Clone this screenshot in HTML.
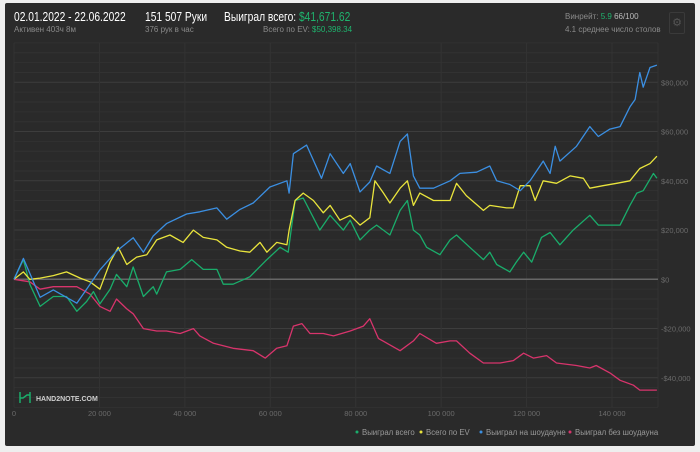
<!DOCTYPE html>
<html><head><meta charset="utf-8">
<style>
body{margin:0;width:700px;height:452px;background:#eeeeee;font-family:"Liberation Sans","Noto Sans CJK SC",sans-serif;overflow:hidden;position:relative}
#panel{position:absolute;left:5px;top:3px;width:690px;height:443px;background:#2a2a2a;border-radius:2px}
.t{position:absolute;white-space:nowrap}
.big{font-size:12.5px;color:#fff;transform:scaleX(0.82);transform-origin:left top}
svg{position:absolute;left:0;top:0}
</style></head><body>
<div id="panel"></div>
<div class="t big" style="left:14px;top:10px">02.01.2022 - 22.06.2022</div>
<div class="t" style="left:14px;top:25px;font-size:8px;color:#8a8a8a">Активен 403ч 8м</div>
<div class="t big" style="left:145px;top:10px">151 507 Руки</div>
<div class="t" style="left:145px;top:25px;font-size:8px;color:#8a8a8a">376 рук в час</div>
<div class="t big" style="left:224px;top:10px">Выиграл всего: <span style="color:#1fb46e">$41,671.62</span></div>
<div class="t" style="left:263px;top:25px;font-size:8px;color:#8a8a8a">Всего по EV: <span style="color:#1fb46e">$50,398.34</span></div>
<div class="t" style="left:565px;top:12px;font-size:8px;color:#8a8a8a">Винрейт: <span style="color:#1fb46e">5.9</span> <span style="color:#bbb">66/100</span></div>
<div class="t" style="left:565px;top:25px;font-size:8px;color:#8a8a8a">4.1 среднее число столов</div>
<div class="t" style="left:669px;top:12px;width:14px;height:20px;border:1px solid #3a3a3a;border-radius:2px;color:#555;font-size:11px;text-align:center;line-height:20px">⚙</div>
<svg id="chart" width="700" height="452"></svg>
<script>
const blueX=[0,2.2,6.1,9.2,14.7,17.0,20.1,24.0,27.9,30.3,32.6,35.7,40.4,43.5,47.5,49.8,52.9,56.0,59.9,63.9,64.4,65.4,68.5,72.0,74.0,77.1,78.7,81.0,83.3,84.9,88.0,90.4,92.1,93.5,95.0,98.2,102.1,104.4,108.3,111.4,113.0,116.1,118.5,120.8,123.9,125.5,126.7,127.8,131.7,134.8,136.8,139.5,141.9,144.2,145.4,146.5,147.3,148.9,150.5];
const blueV=[0,8.5,-7.3,-4.3,-9.7,-4,3.8,11.4,16.9,11,17.6,22.6,26.5,27.4,29,24.4,28.4,31,37.5,40,35,51,54.5,41,51,43,47,35.5,39.5,46,43,56,59,42,37,37,40,43,43.5,46,40,38.5,36,40,48,43,54,48,54,62,58,61,62,70,73,84,78,86,87];
const yellowX=[0,2.2,3.7,6.1,9.2,12.3,15.5,17.8,20.1,22.5,24.4,26.4,28.7,31.1,33.4,36.5,39.6,42.0,44.3,47.5,49.8,52.9,55.2,57.6,59.2,61.5,63.9,64.4,65.8,67.7,70.1,72.4,74.0,76.3,78.7,81.0,83.3,84.5,86.5,88.0,90.4,92.1,93.5,95.0,98.2,102.1,103.6,105.9,109.9,111.4,115.3,116.9,118.5,120.8,122.0,123.9,127.0,130.2,133.3,134.8,137.9,141.1,144.2,146.5,148.9,150.5];
const yellowV=[0,3,0,0.5,1.5,3,0.5,-1,-4,7,13,6,9,10,16,18,15,20,17,16,13,11.5,11,15,11,15,14,20,32,35,32,27,30,24,26,22,25,40,35,31,37,40,30,35,32,32,39,34,28,30,29,29,38,38,32,40,39,42,41,37,38,39,40,45,47,50];
const greenX=[0,2.2,3.7,6.1,9.2,12.3,14.7,17.0,18.6,20.1,22.5,24.0,26.4,27.9,30.3,32.6,33.4,35.7,38.9,41.6,44.3,47.5,49.0,51.3,55.2,59.2,62.3,64.2,65.8,67.7,71.6,74.0,77.1,78.7,81.0,83.3,84.9,88.0,90.4,92.1,93.5,95.0,96.6,99.7,102.1,103.6,106.7,109.9,111.4,113.0,116.1,117.6,119.3,121.2,123.5,125.5,127.8,130.9,134.8,136.8,139.5,141.9,144.2,145.8,147.3,149.7,150.5];
const greenV=[0,8,-2,-11,-7,-7,-13,-9,-5,-10,-4,2,-3,5,-7,-3,-6,3,4,8,4,4,-2,-2,1,8,13,11,32,33,20,26,20,24,16,20,22,18,28,32,20,18,13,10,16,18,13,8,11,6,3,7,11,7,17,19,14,20,26,22,22,22,30,35,36,43,41];
const pinkX=[0,3.7,6.1,9.2,12.3,14.7,17.8,20.1,22.5,24.0,26.4,27.9,30.3,33.4,35.7,38.9,42.0,43.5,46.7,51.3,56.0,58.8,61.5,63.9,65.4,67.4,69.3,72.4,74.8,78.7,81.8,83.3,85.3,90.4,93.5,95.0,98.9,102.1,103.6,106.7,109.9,113.8,116.9,119.3,121.6,124.7,127.0,131.7,134.8,136.3,139.5,141.9,145.0,146.5,150.5];
const pinkV=[0,-1,-4,-3,-3,-3,-6,-11,-13,-8,-12,-14,-20,-21,-21,-22,-20,-23,-26,-28,-29,-32,-28,-27,-19,-18,-22,-22,-23,-21,-19,-16,-24,-29,-25,-22,-26,-25,-25,-30,-34,-34,-33,-30,-32,-31,-34,-35,-36,-35,-38,-41,-43,-45,-45];
const xTicks=[0,20,40,60,80,100,120,140];
const xTickLabels=["0","20 000","40 000","60 000","80 000","100 000","120 000","140 000"];
const yTicks=[-40,-20,0,20,40,60,80];
const yTickLabels=["-$40,000","-$20,000","$0","$20,000","$40,000","$60,000","$80,000"];
const legendNames=["Выиграл всего","Всего по EV","Выиграл на шоудауне","Выиграл без шоудауна"];
const legendColors=["#1aad6b","#e9e43c","#3b8fe2","#d8346c"];

const NS="http://www.w3.org/2000/svg";
const svg=document.getElementById('chart');
const X=h=>14+h*598/140;
const Y=v=>279.3-v*49.25/20;
const L=14,R=658,T=43,B=407;
function mk(tag,attrs){const e=document.createElementNS(NS,tag);for(const k in attrs)e.setAttribute(k,attrs[k]);svg.appendChild(e);return e;}
for(let v=-52;v<=96;v+=4){
  const g=mk('line',{x1:L,x2:R,y1:Y(v),y2:Y(v),stroke:(v%20===0)?'#3d3d3d':'#323232','stroke-width':1});
  
  
}
for(let i=0;i<=7;i++){
  const g=mk('line',{x1:X(i*20),x2:X(i*20),y1:T,y2:B,stroke:'#333','stroke-width':1});
  
  
}
const rg=mk('line',{x1:R,x2:R,y1:T,y2:B,stroke:'#333'});


const z=mk('line',{x1:L,x2:R,y1:Y(0),y2:Y(0),stroke:'#666','stroke-width':1.5});


xTicks.forEach((t,i)=>{
  const e=mk('text',{x:X(t),y:416,fill:'#6a6a6a','font-size':7.5,'text-anchor':'middle','font-family':'Liberation Sans, sans-serif'});
  e.textContent=xTickLabels[i];
  
  
});
yTicks.forEach((t,i)=>{
  const e=mk('text',{x:661,y:Y(t)+3,fill:'#6a6a6a','font-size':7.5,'font-family':'Liberation Sans, sans-serif'});
  e.textContent=yTickLabels[i];
  
  
});
function series(xs,vs,color,name){
  const p=mk('polyline',{points:xs.map((x,i)=>X(x).toFixed(1)+','+Y(vs[i]).toFixed(1)).join(' '),fill:'none',stroke:color,'stroke-width':1.3,'stroke-linejoin':'round'});
  
  
}
series(pinkX,pinkV,legendColors[3],'series-won-without-showdown');
series(greenX,greenV,legendColors[0],'series-won-total');
series(yellowX,yellowV,legendColors[1],'series-ev-total');
series(blueX,blueV,legendColors[2],'series-won-at-showdown');
const lx=[357,421,481,570];
legendNames.forEach((n,i)=>{
  const c=mk('circle',{cx:lx[i],cy:432,r:1.5,fill:legendColors[i]});
  
  
  const t=mk('text',{x:lx[i]+5,y:435,fill:'#9a9a9a','font-size':7.8,'font-family':'Liberation Sans, sans-serif'});
  t.textContent=n;
  
  
});
const lg=mk('path',{d:'M20 392v11M30 392v11M20 398h3l4 -3h3',fill:'none',stroke:'#1aad6b','stroke-width':1.5});


const lt=mk('text',{x:36,y:401,fill:'#cfcfcf','font-size':7,'font-weight':'bold','font-family':'Liberation Sans, sans-serif'});
lt.textContent='HAND2NOTE.COM';


</script>
</body></html>
